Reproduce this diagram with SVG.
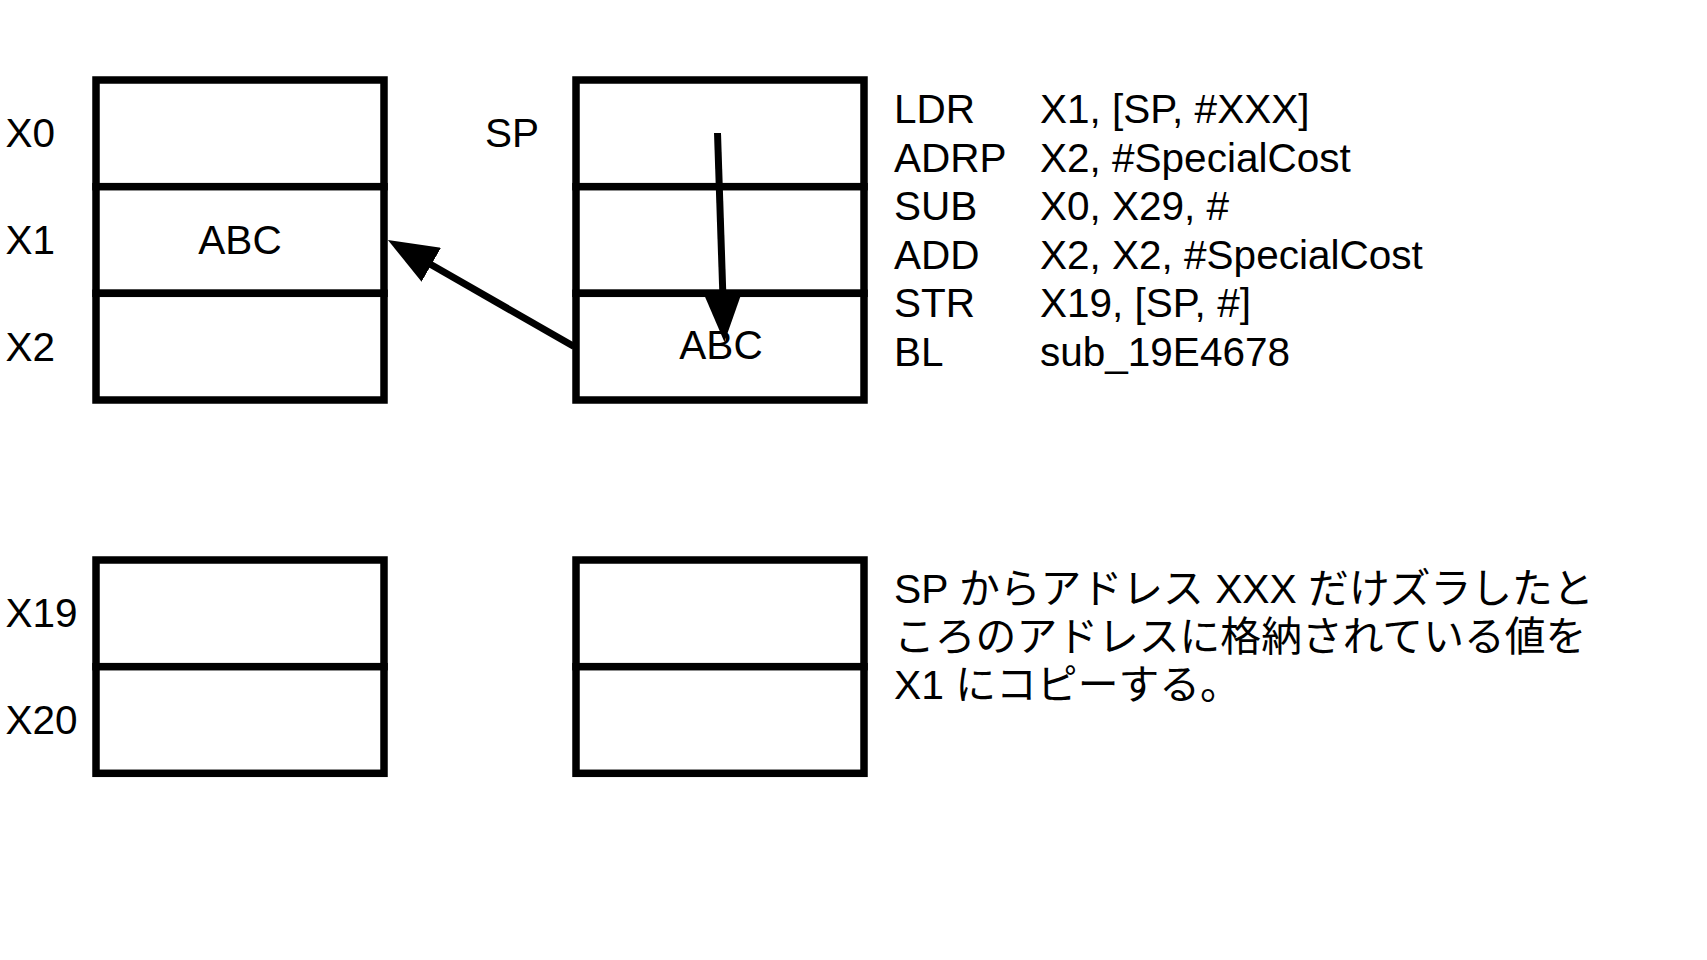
<svg xmlns="http://www.w3.org/2000/svg" width="1707" height="960" viewBox="0 0 1707 960">
  <style>
    .cell { fill: #ffffff; stroke: #000000; stroke-width: 7.5; }
    .lbl { font-family: "Liberation Sans", Arial, sans-serif; font-size: 40.5px; fill: #000000; }
    .jp { font-family: "Liberation Sans", "Noto Sans CJK JP", sans-serif; font-size: 40.8px; fill: #000000; }
    .mid { text-anchor: middle; }
    .conn { stroke: #000000; stroke-width: 7; fill: none; }
  </style>
  <defs>
    <marker id="head" viewBox="0 0 50 39" markerWidth="50" markerHeight="39" refX="1" refY="19.5" orient="auto" markerUnits="userSpaceOnUse">
      <path d="M0,0 L50,19.5 L0,39 Z" fill="#000000"/>
    </marker>
  </defs>
  <rect width="1707" height="960" fill="#ffffff"/>

  <!-- register file X0..X2 -->
  <g id="registers-top">
    <rect class="cell" x="96" y="80" width="288" height="106.7"/>
    <rect class="cell" x="96" y="186.7" width="288" height="106.6"/>
    <rect class="cell" x="96" y="293.3" width="288" height="106.7"/>
    <text class="lbl" x="5.5" y="147.3">X0</text>
    <text class="lbl" x="5.5" y="254">X1</text>
    <text class="lbl" x="5.5" y="360.7">X2</text>
    <text class="lbl mid" x="240" y="254.3">ABC</text>
  </g>

  <!-- stack memory at SP -->
  <g id="stack-top">
    <rect class="cell" x="576" y="80" width="288" height="106.7"/>
    <rect class="cell" x="576" y="186.7" width="288" height="106.6"/>
    <rect class="cell" x="576" y="293.3" width="288" height="106.7"/>
    <text class="lbl" x="485" y="147.3">SP</text>
    <text class="lbl mid" x="721" y="359.3">ABC</text>
  </g>

  <!-- register file X19..X20 -->
  <g id="registers-bottom">
    <rect class="cell" x="96" y="560" width="288" height="106.7"/>
    <rect class="cell" x="96" y="666.7" width="288" height="106.6"/>
    <text class="lbl" x="5.5" y="627.3">X19</text>
    <text class="lbl" x="5.5" y="734">X20</text>
  </g>

  <!-- stack memory, lower slots -->
  <g id="stack-bottom">
    <rect class="cell" x="576" y="560" width="288" height="106.7"/>
    <rect class="cell" x="576" y="666.7" width="288" height="106.6"/>
  </g>

  <!-- assembly listing -->
  <g id="code">
    <text class="lbl" x="894" y="123.3">LDR</text>
    <text class="lbl" x="1040" y="123.3">X1, [SP, #XXX]</text>
    <text class="lbl" x="894" y="171.8">ADRP</text>
    <text class="lbl" x="1040" y="171.8">X2, #SpecialCost</text>
    <text class="lbl" x="894" y="220.3">SUB</text>
    <text class="lbl" x="1040" y="220.3">X0, X29, #</text>
    <text class="lbl" x="894" y="268.8">ADD</text>
    <text class="lbl" x="1040" y="268.8">X2, X2, #SpecialCost</text>
    <text class="lbl" x="894" y="317.3">STR</text>
    <text class="lbl" x="1040" y="317.3">X19, [SP, #]</text>
    <text class="lbl" x="894" y="365.8">BL</text>
    <text class="lbl" x="1040" y="365.8">sub_19E4678</text>
  </g>

  <!-- explanation -->
  <g id="note">
    <text class="jp" x="894" y="602.7">SP からアドレス XXX だけズラしたと</text>
    <text class="jp" x="894" y="651">ころのアドレスに格納されている値を</text>
    <text class="jp" x="894" y="699.3">X1 にコピーする。</text>
  </g>

  <!-- connectors -->
  <g id="connectors">
    <line class="conn" x1="717.5" y1="133" x2="722.8" y2="293" marker-end="url(#head)"/>
    <line class="conn" x1="574" y1="346.5" x2="430.4" y2="264.3" marker-end="url(#head)"/>
  </g>
</svg>
